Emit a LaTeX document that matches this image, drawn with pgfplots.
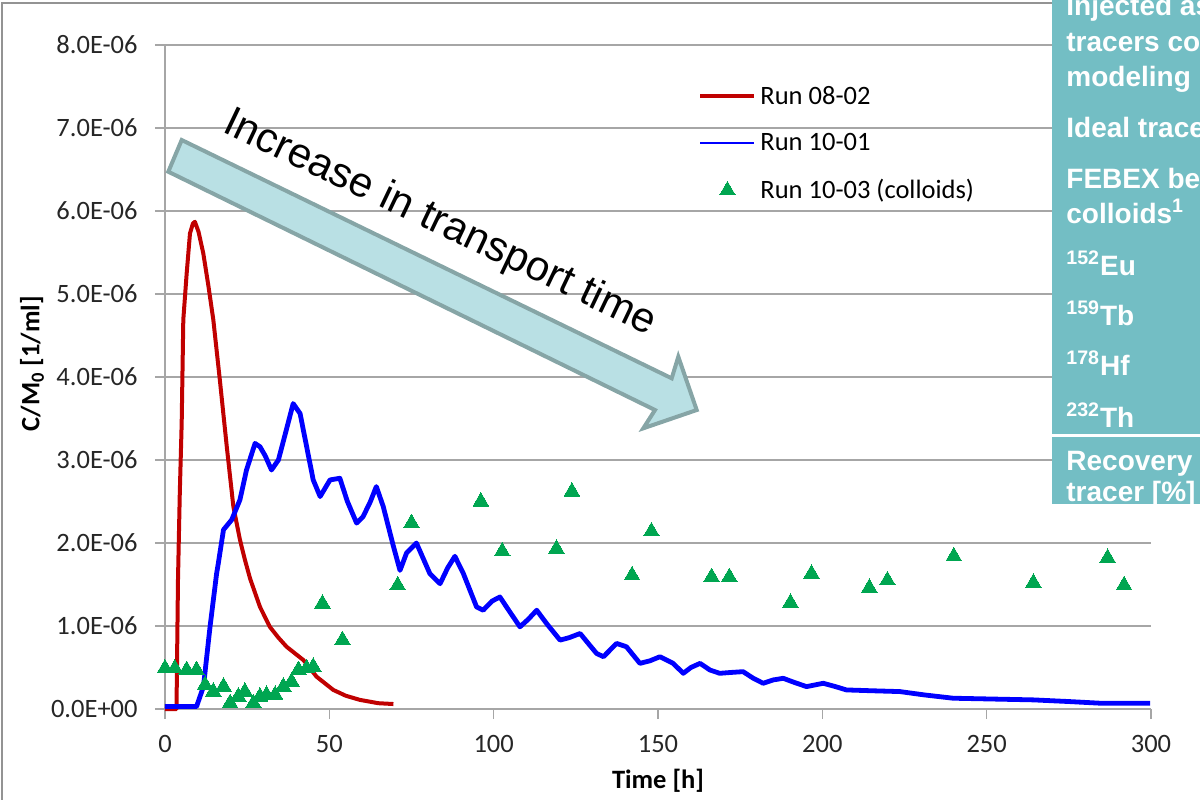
\documentclass[border=0pt]{standalone}
\usepackage{pgfplots}
\pgfplotsset{compat=1.18}
\usepackage{fontspec}
\setmainfont{Carlito}
\newfontfamily\arial{Liberation Sans}
\definecolor{runred}{RGB}{192,0,0}
\definecolor{runblue}{RGB}{0,0,255}
\definecolor{rungreen}{RGB}{0,166,81}
\definecolor{gridgray}{RGB}{166,166,166}
\definecolor{panelteal}{RGB}{115,190,196}
\definecolor{arrowfill}{RGB}{185,224,228}
\definecolor{arrowedge}{RGB}{134,165,166}

% Run 08-02
\pgfplotstableread{
t c
0 0
3.5 0
3.95 1.55e-6
4.5 2.6e-6
5.08 3.45e-6
5.57 4.69e-6
6.6 5.25e-6
7.6 5.73e-6
8.5 5.85e-6
9.1 5.87e-6
10.2 5.75e-6
11.65 5.49e-6
13.2 5.1e-6
14.7 4.69e-6
16.7 3.96e-6
18.8 3.16e-6
20.8 2.44e-6
22.8 2.04e-6
24.3 1.80e-6
25.9 1.57e-6
28.9 1.23e-6
31.9 0.99e-6
34.5 0.86e-6
37.0 0.75e-6
42.1 0.59e-6
46.1 0.39e-6
51.2 0.23e-6
55 0.16e-6
59.3 0.11e-6
64.9 0.07e-6
69.5 0.06e-6
}\runA

% Run 10-01
\pgfplotstableread{
t c
0 0.03e-6
9.6 0.03e-6
11.7 0.27e-6
13.7 0.99e-6
15.7 1.63e-6
16.2 1.75e-6
17.8 2.16e-6
20.3 2.28e-6
22.8 2.52e-6
24.8 2.88e-6
27.4 3.20e-6
28.9 3.16e-6
30.5 3.05e-6
32.4 2.88e-6
34.5 3.00e-6
36.5 3.3e-6
39.0 3.68e-6
41.1 3.56e-6
43.1 3.16e-6
45.1 2.76e-6
47.2 2.56e-6
50.2 2.76e-6
53.2 2.78e-6
55.5 2.5e-6
58.3 2.24e-6
60.3 2.32e-6
62.5 2.5e-6
64.3 2.68e-6
66.4 2.44e-6
69.5 1.96e-6
71.5 1.67e-6
73.5 1.88e-6
76.5 2.00e-6
80.6 1.63e-6
83.7 1.51e-6
86 1.7e-6
88.2 1.84e-6
90.8 1.63e-6
94.8 1.23e-6
96.8 1.19e-6
99.5 1.3e-6
101.9 1.35e-6
103.9 1.23e-6
108.0 0.99e-6
110.5 1.08e-6
113.1 1.19e-6
116.1 1.03e-6
120.2 0.83e-6
123 0.86e-6
126.3 0.91e-6
129 0.78e-6
131.3 0.67e-6
133.4 0.63e-6
137.4 0.79e-6
140.4 0.75e-6
144.5 0.55e-6
147.5 0.58e-6
150.6 0.63e-6
154.6 0.55e-6
157.7 0.43e-6
160 0.5e-6
162.8 0.55e-6
165.8 0.47e-6
168.8 0.43e-6
172 0.44e-6
175.9 0.45e-6
179 0.37e-6
182.0 0.31e-6
185 0.35e-6
188.1 0.37e-6
191.5 0.32e-6
195.2 0.27e-6
200.3 0.31e-6
204 0.27e-6
207.3 0.23e-6
215 0.22e-6
223.6 0.21e-6
231 0.17e-6
239.8 0.13e-6
252 0.12e-6
264.2 0.11e-6
275 0.09e-6
284.5 0.07e-6
292 0.07e-6
299.7 0.07e-6
}\runB

% Run 10-03 (colloids)
\pgfplotstableread{
t c
0 0.49e-6
3.0 0.49e-6
6.6 0.47e-6
9.6 0.47e-6
12.2 0.29e-6
14.7 0.21e-6
17.8 0.27e-6
19.8 0.07e-6
22.3 0.15e-6
24.3 0.21e-6
26.9 0.07e-6
28.9 0.15e-6
30.9 0.17e-6
33.5 0.17e-6
36.0 0.27e-6
38.5 0.33e-6
40.6 0.47e-6
43.1 0.49e-6
45.1 0.51e-6
47.9 1.27e-6
54.0 0.83e-6
70.8 1.49e-6
75.0 2.24e-6
96.1 2.50e-6
102.6 1.90e-6
119.1 1.93e-6
123.8 2.62e-6
142.1 1.61e-6
148.0 2.14e-6
166.3 1.59e-6
171.7 1.59e-6
190.3 1.28e-6
196.7 1.63e-6
214.3 1.46e-6
219.8 1.55e-6
240.0 1.84e-6
264.2 1.52e-6
286.8 1.82e-6
291.8 1.49e-6
}\runC

\begin{document}
\begin{tikzpicture}
\begin{axis}[
    at={(82.5pt,-354.5pt)}, anchor=south west,
    scale only axis, width=493pt, height=332pt,
    xmin=0, xmax=300, ymin=0, ymax=8e-6,
    axis lines*=left,
    axis line style={gridgray, line width=0.75pt},
    xtick={0,50,...,300},
    ytick={0,1e-6,2e-6,3e-6,4e-6,5e-6,6e-6,7e-6,8e-6},
    yticklabels={0.0E+00,1.0E-06,2.0E-06,3.0E-06,4.0E-06,5.0E-06,6.0E-06,7.0E-06,8.0E-06},
    scaled y ticks=false,
    ymajorgrids, grid style={gridgray, line width=0.75pt},
    tick align=outside, major tick length=5pt,
    tick style={gridgray, line width=0.75pt},
    tick label style={font=\fontsize{13.25}{15}\selectfont, text=black!85},
    yticklabel style={inner sep=0pt, xshift=-8.5pt},
    xticklabel style={inner sep=0pt, yshift=-8pt},
    /pgf/number format/assume math mode=true,
    xlabel={Time [h]}, ylabel={C/M\textsubscript{0} [1/ml]},
    label style={font=\fontsize{13.25}{15}\selectfont\bfseries},
    xlabel style={at={(axis description cs:0.5,-0.1084)}, anchor=center},
    ylabel style={at={(axis description cs:-0.1349,0.52)}, anchor=center},
    clip=false,
    legend cell align=left,
    legend style={at={(axis description cs:0.5406,0.945)}, anchor=north west,
        draw=none, fill=none, inner sep=0pt, row sep=9pt,
        font=\fontsize{13.25}{15}\selectfont},
    legend image code/.code={\draw[mark repeat=2,mark phase=2,#1]
        plot coordinates {(0pt,0pt) (13.5pt,0pt) (27pt,0pt)};},
]
\addplot[runred, line width=2pt, line join=round] table[x=t,y=c]{\runA};
\addlegendentry{Run 08-02}
\addplot[runblue, line width=2.4pt, line join=round, forget plot] table[x=t,y=c]{\runB};
\addlegendimage{runblue, line width=1pt}
\addlegendentry{Run 10-01}
\addplot[only marks, mark=triangle*, mark size=4.5pt,
    mark options={fill=rungreen, draw=rungreen, line width=0pt}] table[x=t,y=c]{\runC};
\addlegendentry{Run 10-03 (colloids)}
\end{axis}
\begin{scope}[x=0.5pt,y=-0.5pt]
  % chart frame
  \draw[gray!85, line width=1pt] (2,830) -- (2,3) -- (1100,3);
  % arrow
  \filldraw[fill=arrowfill, draw=arrowedge, line width=2pt, line join=miter]
    (181.7,140) -- (671.7,378.3) -- (678.3,356.7) -- (696.7,410)
    -- (643.3,428.3) -- (655,410) -- (168.3,171.7) -- cycle;
  \node[font=\arial\fontsize{21}{25}\selectfont, rotate=-25.5, anchor=base west, inner sep=0pt]
    at (221,131) {Increase in transport time};
  % side panel
  \fill[panelteal] (1052,-5) rectangle (1210,504);
  \draw[white, line width=1.5pt] (1052,435) -- (1210,435);
  \begin{scope}
    \clip (1052,0) rectangle (1200,504);
    \begin{scope}[every node/.style={anchor=base west, inner sep=0pt, text=white,
        font=\arial\bfseries\fontsize{14}{17}\selectfont}]
      \node at (1066,15) {Injected as};
      \node at (1066,51.5) {tracers cocktail};
      \node at (1066,86) {modeling};
      \node at (1066,137) {Ideal tracer};
      \node at (1066,188) {FEBEX bentonite};
      \node at (1066,223) {colloids\textsuperscript{1}};
      \node at (1066,275) {\textsuperscript{152}Eu};
      \node at (1066,325) {\textsuperscript{159}Tb};
      \node at (1066,375) {\textsuperscript{178}Hf};
      \node at (1066,427) {\textsuperscript{232}Th};
      \node at (1066,470) {Recovery of};
      \node at (1066,501) {tracer [\%]};
    \end{scope}
  \end{scope}
\end{scope}
\pgfresetboundingbox
\path[use as bounding box] (0pt,0pt) rectangle (600pt,-399.5pt);
\end{tikzpicture}
\end{document}
